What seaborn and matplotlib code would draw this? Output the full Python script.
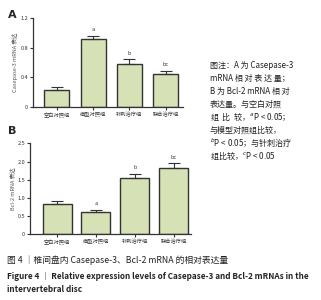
import matplotlib
matplotlib.use("Agg")
import matplotlib.pyplot as plt
import seaborn as sns
import pandas as pd
import numpy as np

sns.set_style("ticks")
plt.rcParams['font.family'] = ['Noto Sans CJK SC', 'DejaVu Sans']

groups = ["空白对照组", "模型对照组", "针刺治疗组", "联合治疗组"]
casp_vals = [0.23, 0.92, 0.58, 0.45]
casp_err = [0.035, 0.04, 0.065, 0.035]
casp_sig = ["", "a", "b", "bc"]
bcl_vals = [0.83, 0.60, 1.56, 1.82]
bcl_err = [0.09, 0.07, 0.11, 0.13]
bcl_sig = ["", "a", "b", "bc"]

bar_color = "#d6e2b6"
edge = "#333333"

fig = plt.figure(figsize=(3.21, 3.0), dpi=100)

def panel(rect, vals, errs, sig, ylabel, yticks, ylim, xlim, width, letter, lpos):
    ax = fig.add_axes(rect)
    df = pd.DataFrame({"group": groups, "value": vals})
    sns.barplot(data=df, x="group", y="value", ax=ax, color=bar_color,
                edgecolor=edge, linewidth=1.0, width=width, errorbar=None, saturation=1)
    x = np.arange(len(vals))
    ax.errorbar(x, vals, yerr=[np.zeros(len(errs)), errs], fmt="none",
                ecolor=edge, elinewidth=0.8, capsize=4, capthick=0.8)
    step = ylim[1] * 0.04
    for xi, v, e, s in zip(x, vals, errs, sig):
        if s:
            ax.text(xi, v + e + step, s, ha="center", va="bottom", fontsize=4.0,
                    color="#333333")
    ax.set_ylim(*ylim)
    ax.set_xlim(*xlim)
    ax.set_yticks(yticks)
    ax.set_yticklabels([("0" if t == 0 else f"{t:.1f}") for t in yticks], fontsize=4.0, color="#444444")
    ax.set_xticks(x)
    ax.set_xticklabels(groups, fontsize=3.8, color="#222222")
    ax.set_xlabel("")
    ax.set_ylabel(ylabel, fontsize=4.0, color="#555555", labelpad=2)
    ax.tick_params(axis="both", length=2, width=0.8, pad=1.5, colors="#333333")
    sns.despine(ax=ax)
    for sp in ["left", "bottom"]:
        ax.spines[sp].set_linewidth(0.9)
        ax.spines[sp].set_color("#333333")
    fig.text(lpos[0], lpos[1], letter, fontsize=8, fontweight="bold", family="DejaVu Sans",
             ha="left", va="center")
    return ax

panel([33/321, 1 - 107/300, 150/321, 89/300], casp_vals, casp_err, casp_sig,
      "Casepase-3 mRNA 表达", [0, 0.4, 0.8, 1.2], (0, 1.2), (-0.66, 3.48), 0.69,
      "A", (8/321, 1 - 15/300))
panel([30/321, 1 - 234.3/300, 161/321, 91/300], bcl_vals, bcl_err, bcl_sig,
      "Bcl-2 mRNA 表达", [0, 0.5, 1.0, 1.5, 2.0, 2.5], (0, 2.5), (-0.70, 3.45), 0.75,
      "B", (8/321, 1 - 131/300))

note_lines = ["图注：A 为 Casepase-3", "mRNA 相 对 表 达 量；", "B 为 Bcl-2 mRNA 相 对",
              "表达量。与空白对照", "组  比  较，$^a$P < 0.05；", "与模型对照组比较，",
              "$^b$P < 0.05；与针刺治疗", "组比较，$^c$P < 0.05"]
for i, line in enumerate(note_lines):
    fig.text(210/321, 1 - (65 + i * 13.0) / 300, line, fontsize=5.8, color="#222222",
             ha="left", va="center")

fig.text(7/321, 1 - 260/300, "图 4 ｜椎间盘内 Casepase-3、Bcl-2 mRNA 的相对表达量",
         fontsize=6.3, color="#222222", ha="left", va="center")
fig.text(7/321, 1 - 276/300, "Figure 4 ｜ Relative expression levels of Casepase-3 and Bcl-2 mRNAs in the",
         fontsize=5.9, fontweight="bold", color="#222222", ha="left", va="center")
fig.text(7/321, 1 - 290/300, "intervertebral disc",
         fontsize=5.9, fontweight="bold", color="#222222", ha="left", va="center")

fig.savefig("out.png", dpi=100, facecolor="white")
